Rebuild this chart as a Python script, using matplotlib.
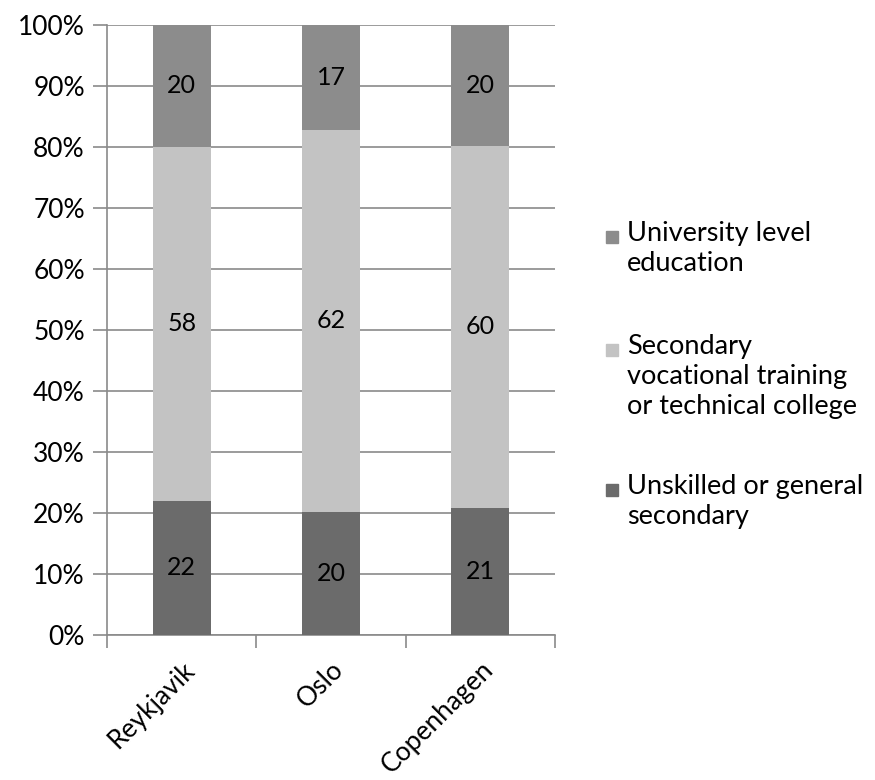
import matplotlib.pyplot as plt
from matplotlib.patches import Rectangle
import numpy as np

plt.rcParams['font.family'] = ['Lato', 'DejaVu Sans']

cities = ['Reykjavik', 'Oslo', 'Copenhagen']
unskilled = [22, 20, 21]
secondary = [58, 62, 60]
university = [20, 17, 20]

series_names = ['Unskilled or general\nsecondary',
                'Secondary\nvocational training\nor technical college',
                'University level\neducation']
colors = ['#6b6b6b', '#c3c3c3', '#8c8c8c']

fig = plt.figure(figsize=(8.75, 7.8), dpi=100)
ax = fig.add_axes([0.1223, 0.186, 0.512, 0.782])

series = np.array([unskilled, secondary, university], dtype=float)
totals = series.sum(axis=0)
shares = series / totals * 100

x = np.arange(len(cities))
bottom = np.zeros(len(cities))
for vals, raw, col in zip(shares, series, colors):
    ax.bar(x, vals, bottom=bottom, width=0.39, color=col, zorder=3)
    for xi, b, v, r in zip(x, bottom, vals, raw):
        ax.text(xi, b + v / 2, '%d' % r, ha='center', va='center',
                fontsize=18, color='black', zorder=4)
    bottom += vals

ax.set_xlim(-0.5, 2.5)
ax.set_ylim(0, 100)
ax.set_yticks(np.arange(0, 101, 10))
ax.set_yticklabels(['%d%%' % v for v in range(0, 101, 10)], fontsize=19)
ax.yaxis.grid(True, color='#8a8a8a', linewidth=1.2, zorder=0)
ax.set_axisbelow(True)

ax.set_xticks(x)
ax.set_xticklabels(cities, rotation=45, ha='right', rotation_mode='anchor', fontsize=19)
ax.tick_params(axis='x', length=0, pad=16)
ax.set_xticks([-0.5, 0.5, 1.5, 2.5], minor=True)
ax.tick_params(axis='x', which='minor', length=9, color='#8a8a8a', width=1.2)
ax.tick_params(axis='y', length=10, color='#8a8a8a', width=1.2, pad=6)

for s in ['top', 'right']:
    ax.spines[s].set_visible(False)
for s in ['left', 'bottom']:
    ax.spines[s].set_color('#8a8a8a')
    ax.spines[s].set_linewidth(1.2)

# legend, drawn by hand so the key sits on the first text line
leg_y = [237, 350, 490]
for name, col, yy in zip(series_names[::-1], colors[::-1], leg_y):
    fy = 1 - yy / 780
    fig.patches.append(Rectangle((606 / 875, fy - 6 / 780), 12 / 875, 12 / 780,
                                 transform=fig.transFigure, color=col))
    fig.text(627 / 875, fy + 16 / 780, name, fontsize=19.5, va='top', ha='left',
             linespacing=1.25)

fig.savefig('out.png', dpi=100)
